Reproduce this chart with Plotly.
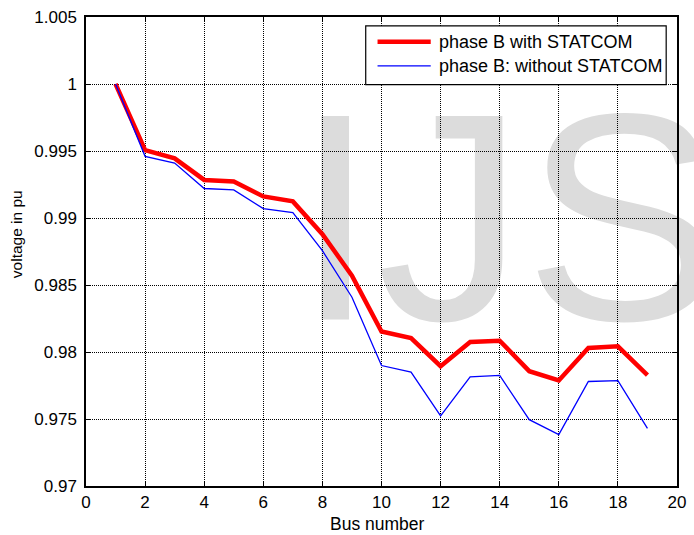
import plotly.graph_objects as go

bus = list(range(1, 20))
with_statcom = [1.0, 0.99507, 0.99445, 0.99284, 0.99272, 0.99161, 0.99124, 0.98879, 0.9857,
                0.98153, 0.98104, 0.97894, 0.98074, 0.98084, 0.97857, 0.97788, 0.9803, 0.98042, 0.97828]
without_statcom = [1.0, 0.9946, 0.9941, 0.9922, 0.9921, 0.9907, 0.9904, 0.98756, 0.98409,
                   0.97899, 0.9785, 0.97524, 0.97815, 0.97825, 0.97495, 0.97384, 0.9778, 0.97786, 0.9743]
x_ticks = list(range(0, 21, 2))
y_ticks = [0.97, 0.975, 0.98, 0.985, 0.99, 0.995, 1.0, 1.005]
y_tick_text = ["0.97", "0.975", "0.98", "0.985", "0.99", "0.995", "1", "1.005"]
legend_names = ["phase B with STATCOM", "phase B: without STATCOM"]

FONT = "Liberation Sans, Arial, sans-serif"
RED = "#ff0000"
BLUE = "#0000ff"

fig = go.Figure()
fig.add_trace(go.Scatter(x=bus, y=with_statcom, mode="lines", name=legend_names[0],
                         line=dict(color=RED, width=4.5), showlegend=False))
fig.add_trace(go.Scatter(x=bus, y=without_statcom, mode="lines", name=legend_names[1],
                         line=dict(color=BLUE, width=1.3), showlegend=False))

axis_common = dict(showline=True, linecolor="black", linewidth=1.5, mirror="ticks",
                   ticks="inside", ticklen=5, tickcolor="black", tickwidth=1,
                   showgrid=True, gridcolor="black", gridwidth=1, griddash="1px,1px",
                   zeroline=False, tickfont=dict(family=FONT, size=17, color="black"))

fig.update_xaxes(range=[0, 20], tickvals=x_ticks, **axis_common)
fig.update_yaxes(range=[0.97, 1.005], tickvals=y_ticks, ticktext=y_tick_text,
                 ticklabelstandoff=4, **axis_common)

# watermark (behind grid and data)
fig.add_shape(type="rect", xref="paper", yref="paper", x0=0.347, x1=1.3, y0=0.533, y1=0.733,
              line=dict(width=0), fillcolor="rgba(0,0,0,0)", layer="below",
              label=dict(text="IJS", textposition="middle left", padding=0,
                         font=dict(family=FONT, size=296, color="#dcdcdc")))

# legend box
fig.add_shape(type="rect", xref="paper", yref="paper", x0=0.4733, x1=0.9817, y0=0.8559, y1=0.9809,
              line=dict(color="black", width=1.2), fillcolor="white", layer="above")
leg_y = [0.947, 0.896]
leg_col = [RED, BLUE]
leg_w = [4.5, 1.3]
for i in range(2):
    fig.add_shape(type="line", xref="paper", yref="paper", x0=0.4933, x1=0.5833, y0=leg_y[i], y1=leg_y[i],
                  line=dict(color=leg_col[i], width=leg_w[i]), layer="above")
    fig.add_annotation(xref="paper", yref="paper", x=0.5933, y=leg_y[i], xanchor="left", yanchor="middle",
                       text=legend_names[i], showarrow=False,
                       font=dict(family=FONT, size=18, color="black"))

fig.add_annotation(xref="paper", yref="paper", x=0.493, y=-0.0805, xanchor="center", yanchor="middle",
                   text="Bus number", showarrow=False, font=dict(family=FONT, size=17.5, color="black"))
fig.add_annotation(xref="paper", yref="paper", x=-0.1175, y=0.536, xanchor="center", yanchor="middle",
                   text="voltage in pu", textangle=-90, showarrow=False,
                   font=dict(family=FONT, size=15.5, color="black"))

fig.update_layout(width=694, height=535, margin=dict(l=86, r=8, t=14, b=49),
                  paper_bgcolor="white", plot_bgcolor="rgba(0,0,0,0)", showlegend=False)

fig.write_html("out.html")
